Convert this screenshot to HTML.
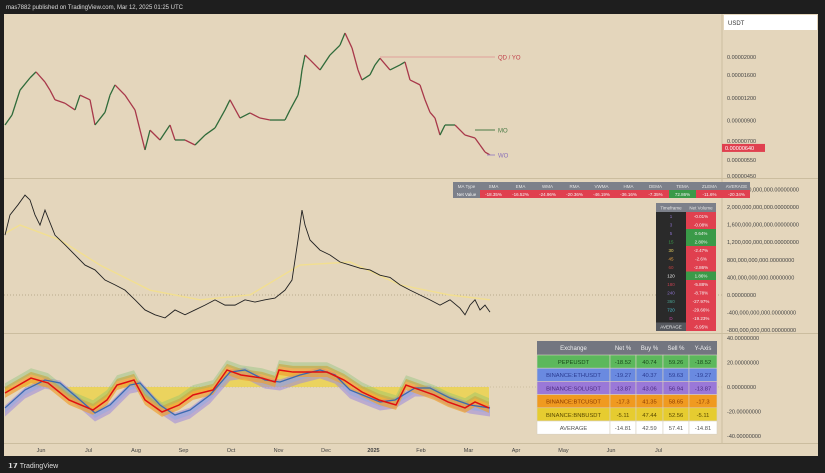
<!DOCTYPE html>
<html><head><meta charset="utf-8"><style>
body{margin:0;background:#1e1e1e;width:825px;height:473px;overflow:hidden}
svg{display:block;font-family:"Liberation Sans",sans-serif}
</style></head><body>
<svg id="c" width="825" height="473" viewBox="0 0 825 473">
<rect x="0" y="0" width="825" height="473" fill="#1e1e1e"/>
<rect x="4" y="14" width="814" height="442" fill="#e4d6bc"/>
<text x="6" y="9" font-size="6" fill="#ddd">mas7882 published on TradingView.com, Mar 12, 2025 01:25 UTC</text>
<line x1="722" y1="14" x2="722" y2="443" stroke="#cbbd9f"/>
<line x1="4" y1="178.5" x2="818" y2="178.5" stroke="#cbbd9f"/>
<line x1="4" y1="333.5" x2="818" y2="333.5" stroke="#cbbd9f"/>
<line x1="4" y1="443.5" x2="818" y2="443.5" stroke="#cbbd9f"/>
<rect x="724" y="15" width="93" height="15" fill="#fff"/>
<text x="728" y="25" font-size="6" fill="#333">USDT</text>
<g id="price"></g><g id="mid"></g><g id="osc"></g><g id="axes"></g><g id="tables"></g>
<text x="8" y="468" font-size="7" fill="#ddd" font-weight="bold">𝟭𝟳 <tspan font-weight="normal">TradingView</tspan></text>
</svg>
<script>
// ---- data ----
const priceX=[5,12,20,30,36,45,50,55,65,75,80,90,95,105,110,115,125,135,145,150,160,170,175,185,195,205,215,225,230,240,250,260,270,285,290,298,300,302,305,310,320,330,340,345,352,358,362,370,375,380,390,400,405,410,420,425,430,435,440,445,455,465,475,480,485,490];
const priceVals=[8.53,9.67,13.2,15.4,16.6,14.6,13.2,11.7,11.2,10.3,12.4,11.7,8.53,10.0,12.4,14.1,12.4,10.3,6.24,8.0,7.07,8.53,7.07,7.07,6.64,7.52,8.22,10.3,11.7,9.31,9.92,9.31,9.08,9.08,10.3,12.4,14.1,17.0,20.5,19.3,17.0,20.5,23.2,27.0,22.4,17.0,15.0,16.0,18.1,19.7,17.0,18.1,18.8,15.0,14.1,11.7,10.0,9.31,7.52,8.53,8.53,7.52,7.25,6.64,6.08,5.86];
const priceTicks=[20,16,12,9,7,5.5,4.5];
const priceTickLabels=["0.00002000","0.00001600","0.00001200","0.00000900","0.00000700","0.00000550","0.00000450"];
const lastPrice=6.4;
const netX=[5,10,18,25,30,35,40,45,55,65,75,85,95,105,115,125,135,145,155,165,175,185,195,205,215,225,235,245,255,265,275,285,292,298,302,305,310,320,330,340,350,360,370,380,390,400,410,420,430,440,450,460,465,470,475,480,485,490];
const netVals=[13.6,18.2,20.5,22.7,21.6,18.2,15.9,19.3,13.6,11.4,9.1,6.8,5.7,3.4,2.3,1.1,-1.1,-3.4,-4.5,-5.2,-3.4,-4.5,-3.4,-2.3,-1.1,-2.3,-2.3,-1.1,-1.6,-1.1,-0.7,1.1,3.4,12.5,19.3,15.9,12.5,10.2,9.1,7.5,6.8,6.1,5.7,4.5,4.0,2.3,1.1,0,-1.1,-2.3,-1.1,-3.0,-4.5,-2.3,-1.1,-3.4,-2.3,-3.9];
const maX=[5,20,60,100,150,200,250,300,350,400,450,490];
const maVals=[14,15.9,12.5,6.8,1.1,-1.1,0,6.8,7.5,2.3,0,-1.1];
const midTicks=[24,20,16,12,8,4,0,-4,-8];
const midTickLabels=["2,400,000,000,000.00000000","2,000,000,000,000.00000000","1,600,000,000,000.00000000","1,200,000,000,000.00000000","800,000,000,000.00000000","400,000,000,000.00000000","0.00000000","-400,000,000,000.00000000","-800,000,000,000.00000000"];
const oscX=[5,31,48,69,93,107,117,134,145,162,179,193,213,227,241,262,275,279,293,310,327,344,362,379,396,406,420,434,448,465,475,489];
const redVals=[-4.9,7.3,3.3,-10.6,-18.8,-10.6,1.6,5.7,-10.6,-20.4,-14.7,-6.5,-2.4,13.9,9.8,7.3,4.1,13.9,12.2,12.2,12.2,5.7,-4.1,-10.6,-14.7,1.6,-2.4,-6.5,-12.2,-17.1,-12.2,-17.1];
const blueX=[5,25,45,60,80,95,110,130,140,160,175,190,210,230,245,265,280,300,320,335,350,370,380,395,415,430,450,470,490];
const blueVals=[-17.1,-2.4,5.7,3.3,-10.6,-21.2,-14.7,1.6,3.3,-14.7,-22.9,-18.8,-6.5,12.2,13.9,5.7,4.1,9.8,13.9,9.8,-2.4,-9,-12.2,-10.6,-0.8,-0.8,-9,-14.7,-17.1];
const oscTicks=[40,20,0,-20,-40];
const oscTickLabels=["40.00000000","20.00000000","0.00000000","-20.00000000","-40.00000000"];
const months=["Jun","Jul","Aug","Sep","Oct","Nov","Dec","2025","Feb","Mar","Apr","May","Jun","Jul"];
const maTypes=["MA Type","SMA","EMA","WMA","RMA","VWMA","HMA","DEMA","TEMA","ZLEMA","AVERAGE"];
const maNet=["Net Value","-18.35%","-16.52%","-24.96%","-20.36%","-46.19%","-36.16%","-7.35%","72.86%","-11.6%","-20.34%"];
const tfNames=["1","3","5","15","30","45","60","120","180","240","360","720","D","AVERAGE"];
const tfVals=["-0.01%","-0.08%","0.64%","2.80%","-2.47%","-2.6%","-2.86%","1.86%","-5.88%","-8.78%","-27.97%","-29.66%","-19.23%","-6.95%"];
const exNames=["PEPEUSDT","BINANCE:ETHUSDT","BINANCE:SOLUSDT","BINANCE:BTCUSDT","BINANCE:BNBUSDT","AVERAGE"];
const exNet=[-18.52,-19.27,-13.87,-17.3,-5.11,-14.81];
const exBuy=[40.74,40.37,43.06,41.35,47.44,42.59];
const exSell=[59.26,59.63,56.94,58.65,52.56,57.41];
// ---- scales ----
const NS="http://www.w3.org/2000/svg";
function mk(tag,attrs,parent,txt){const e=document.createElementNS(NS,tag);for(const k in attrs)e.setAttribute(k,attrs[k]);if(txt!==undefined)e.textContent=txt;parent.appendChild(e);return e;}
const yPrice=v=>57-79.8*Math.log(v/20);
const yMid=v=>295-v*4.4;
const yOsc=v=>387-v*1.225;
const xMonth=i=>41+i*47.5;
// price pane
const gp=document.getElementById('price');
for(let i=1;i<priceX.length;i++){
  const up=priceVals[i]>=priceVals[i-1];
  const l=mk('line',{x1:priceX[i-1],y1:yPrice(priceVals[i-1]),x2:priceX[i],y2:yPrice(priceVals[i]),stroke:up?'#2f6b3a':'#a8384a','stroke-width':1.3},gp);
  
  
}
const lv=[["QD / YO",380,57,'#e0a09a','#c0404a'],["MO",475,130,'#4a7a46','#4a7a46'],["WO",487,155,'#a08ac0','#8a70b8']];
lv.forEach(d=>{const l=mk('line',{x1:d[1],y1:d[2],x2:495,y2:d[2],stroke:d[3],'stroke-width':1},gp);
  
  const t=mk('text',{x:498,y:d[2]+2.5,'font-size':6,fill:d[4]},gp,d[0]);
  });
const ga=document.getElementById('axes');
priceTicks.forEach((v,i)=>{const t=mk('text',{x:727,y:yPrice(v)+2,'font-size':5.5,fill:'#444'},ga,priceTickLabels[i]);
  });
const lb=mk('rect',{x:722,y:yPrice(lastPrice)-4,width:43,height:8,fill:'#e0404f'},ga);

const lt=mk('text',{x:725,y:yPrice(lastPrice)+2,'font-size':5.5,fill:'#fff'},ga,"0.00000640");

// mid pane
const gm=document.getElementById('mid');
const zl=mk('line',{x1:4,y1:yMid(0),x2:722,y2:yMid(0),stroke:'#b8aa8c','stroke-dasharray':'1 2'},gm);

const ma=mk('polyline',{points:maX.map((x,i)=>x+','+yMid(maVals[i])).join(' '),fill:'none',stroke:'#f2df90','stroke-width':1.4},gm);

const nl=mk('polyline',{points:netX.map((x,i)=>x+','+yMid(netVals[i])).join(' '),fill:'none',stroke:'#222','stroke-width':0.9},gm);

midTicks.forEach((v,i)=>{const t=mk('text',{x:727,y:yMid(v)+2,'font-size':5.5,fill:'#444'},ga,midTickLabels[i]);
  });
// osc pane
const go=document.getElementById('osc');
const z2=mk('line',{x1:4,y1:yOsc(0),x2:722,y2:yOsc(0),stroke:'#cbbd9f','stroke-dasharray':'1 2'},go);

// yellow fill between zero and red line
let yp=oscX.map((x,i)=>x+','+yOsc(redVals[i])).join(' ')+' '+oscX[oscX.length-1]+','+yOsc(0)+' '+oscX[0]+','+yOsc(0);
const yf=mk('polygon',{points:yp,fill:'#ecd24e',opacity:0.85},go);

function band(xs,vals,lo,hi,col,op,name){
  const top=xs.map((x,i)=>x+','+yOsc(vals[i]+hi));
  const bot=xs.map((x,i)=>x+','+yOsc(vals[i]+lo)).reverse();
  const p=mk('polygon',{points:top.concat(bot).join(' '),fill:col,opacity:op},go);
  
}
band(blueX,blueVals,-7,2,'#9a88dc',0.55,'sol-band');
band(blueX,blueVals,-4,0,'#8eaae6',0.5,'eth-band');
band(oscX,redVals,-4,5,'#f0a030',0.7,'btc-band');
band(oscX,redVals,3,8,'#7cc070',0.35,'pepe-band');
const bl=mk('polyline',{points:blueX.map((x,i)=>x+','+yOsc(blueVals[i])).join(' '),fill:'none',stroke:'#3a6ab0','stroke-width':1.3},go);

const rl=mk('polyline',{points:oscX.map((x,i)=>x+','+yOsc(redVals[i])).join(' '),fill:'none',stroke:'#e01010','stroke-width':1.5},go);

oscTicks.forEach((v,i)=>{const t=mk('text',{x:727,y:yOsc(v)+2,'font-size':5.5,fill:'#444'},ga,oscTickLabels[i]);
  });
months.forEach((m,i)=>{const t=mk('text',{x:xMonth(i),y:452,'font-size':5.5,fill:'#444','text-anchor':'middle','font-weight':m==='2025'?'bold':'normal'},ga,m);
  });
// tables
const gt=document.getElementById('tables');
const mw=27;
maTypes.forEach((h,i)=>{
  const x=453+i*mw;
  const r1=mk('rect',{x:x,y:182,width:mw,height:8,fill:'#7c808a'},gt);
  
  const t1=mk('text',{x:x+mw/2,y:188,'font-size':4.5,fill:'#e6e6e6','text-anchor':'middle'},gt,h);
  
  const col=i===0?'#7c808a':(maNet[i].startsWith('-')?'#e0404f':'#3a9a48');
  const r2=mk('rect',{x:x,y:190,width:mw,height:8,fill:col},gt);
  
  const t2=mk('text',{x:x+mw/2,y:196,'font-size':4.5,fill:'#f4f4f4','text-anchor':'middle'},gt,maNet[i]);
  
});
[["Timeframe",656],["Net Volume",686]].forEach(h=>{
  const r=mk('rect',{x:h[1],y:203,width:30,height:9,fill:'#7c808a'},gt);
  
  const t=mk('text',{x:h[1]+15,y:209.5,'font-size':4.5,fill:'#e6e6e6','text-anchor':'middle'},gt,h[0]);
  
});
const tfCols=['#8a70c8','#8a70c8','#8a70c8','#3aa04a','#e8d060','#e8a040','#c04040','#eeeeee','#c04050','#8a70c8','#4aa090','#4ac0d0','#c040a0','#eeeeee'];
tfNames.forEach((n,i)=>{
  const y=212+i*8.5;
  const r=mk('rect',{x:656,y:y,width:30,height:8.5,fill:i===13?'#55585e':'#2a2a2a'},gt);
  
  const t=mk('text',{x:671,y:y+6,'font-size':4.5,fill:tfCols[i],'text-anchor':'middle'},gt,n);
  
  const r2=mk('rect',{x:686,y:y,width:30,height:8.5,fill:tfVals[i].startsWith('-')?'#e0404f':'#3a9a48'},gt);
  
  const t2=mk('text',{x:701,y:y+6,'font-size':4.5,fill:'#f4f4f4','text-anchor':'middle'},gt,tfVals[i]);
  
});
const cx=[537,610,636,663,689,717];
const hdr=["Exchange","Net %","Buy %","Sell %","Y-Axis"];
const rowBg=['#5cb85c','#6a8ae0','#9a78d8','#f09a20','#e6cc30','#ffffff'];
const rowFg=['#1a4a1a','#2a3a90','#4a2a80','#8a3a00','#5a4a00','#555555'];
hdr.forEach((h,j)=>{
  const r=mk('rect',{x:cx[j],y:341,width:cx[j+1]-cx[j],height:14,fill:'#737680'},gt);
  
  const t=mk('text',{x:(cx[j]+cx[j+1])/2,y:350,'font-size':6,fill:'#eee','text-anchor':'middle'},gt,h);
  
});
exNames.forEach((n,i)=>{
  const y=355+i*13.2;
  const vals=[n,exNet[i],exBuy[i],exSell[i],exNet[i]];
  vals.forEach((v,j)=>{
    const r=mk('rect',{x:cx[j],y:y,width:cx[j+1]-cx[j],height:13.2,fill:rowBg[i],stroke:'#d8d0c0','stroke-width':0.6},gt);
    
    const t=mk('text',{x:(cx[j]+cx[j+1])/2,y:y+9,'font-size':5.8,fill:rowFg[i],'text-anchor':'middle'},gt,String(v));
    
  });
});
</script>
</body></html>
